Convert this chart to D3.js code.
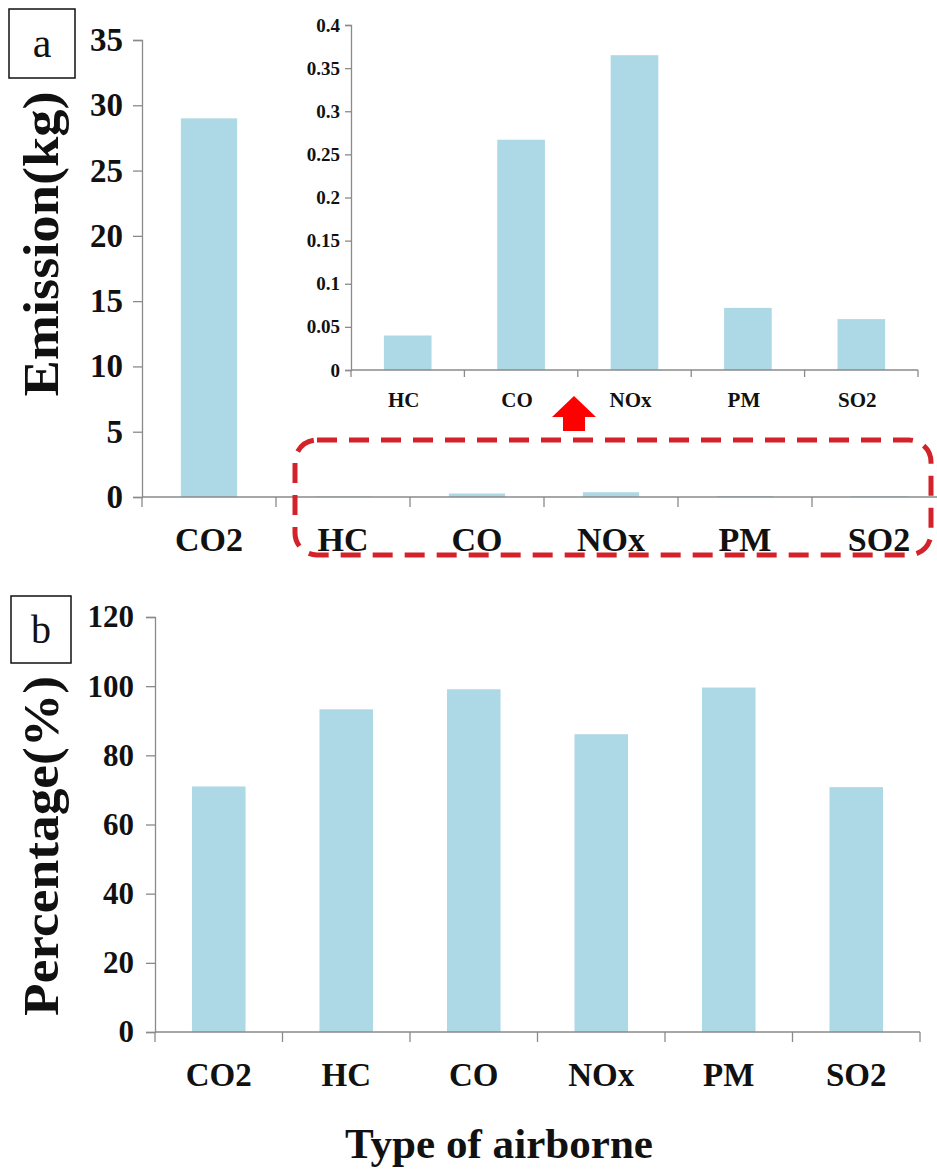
<!DOCTYPE html>
<html><head><meta charset="utf-8">
<script src="https://cdn.jsdelivr.net/npm/d3@7"></script>
<style>
html,body{margin:0;padding:0;background:#fff;}
svg{display:block;}
svg text{font-family:"Liberation Serif","Times New Roman",serif !important;}
</style></head>
<body>
<svg id="chart" width="937" height="1175"></svg>
<script>
// ---- data ----
const categories = ["CO2","HC","CO","NOx","PM","SO2"];
const emissionKg = [29.0, 0.040, 0.267, 0.365, 0.072, 0.059];
const insetCategories = ["HC","CO","NOx","PM","SO2"];
const insetEmissionKg = [0.040, 0.267, 0.365, 0.072, 0.059];
const percentValues = [71.0, 93.3, 99.1, 86.1, 99.6, 70.8];
const emissionTicks = [0,5,10,15,20,25,30,35];
const insetTicks = [0,0.05,0.1,0.15,0.2,0.25,0.3,0.35,0.4];
const percentTicks = [0,20,40,60,80,100,120];

const svg = d3.select("#chart");
const barColor = "#add8e6";
const axisColor = "#8a8a8a";
const barFrac = 0.42;
const serif = "'Liberation Serif','Times New Roman',serif";

function drawPanel(g, cats, vals, xr, yDomain, yr, ticks, opts){
  const x = d3.scaleBand().domain(cats).range(xr).padding(0);
  const y = d3.scaleLinear().domain(yDomain).range(yr);
  const bw = x.bandwidth();
  g.selectAll("rect.bar").data(cats).enter().append("rect")
    .attr("class","bar")
    .attr("x", d => x(d) + bw*(1-barFrac)/2)
    .attr("width", bw*barFrac)
    .attr("y", (d,i) => y(vals[i]))
    .attr("height", (d,i) => y(0) - y(vals[i]))
    .attr("fill", barColor);
  const yAxis = d3.axisLeft(y).tickValues(ticks).tickSize(opts.tickLen).tickPadding(opts.yPad)
    .tickFormat(d => d3.format("~g")(d));
  const ya = g.append("g").attr("transform",`translate(${xr[0]},0)`).call(yAxis)
    .attr("font-family", serif);
  ya.select(".domain").attr("stroke",axisColor).attr("stroke-width",1.3);
  ya.selectAll(".tick line").attr("stroke",axisColor).attr("stroke-width",1.3);
  ya.selectAll(".tick text").attr("font-size",opts.yFont).attr("font-weight","bold")
    .attr("fill","#111").attr("font-family", serif);
  g.append("line").attr("x1",xr[0]).attr("x2",xr[1]).attr("y1",y(0)).attr("y2",y(0))
    .attr("stroke",axisColor).attr("stroke-width",1.3);
  const bounds = cats.map(c => x(c)).concat([xr[1]]);
  g.selectAll("line.xt").data(bounds).enter().append("line")
    .attr("x1",d=>d).attr("x2",d=>d).attr("y1",y(0)).attr("y2",y(0)+opts.xTickLen)
    .attr("stroke",axisColor).attr("stroke-width",1.3);
  g.selectAll("text.xl").data(cats).enter().append("text")
    .attr("x", d => x(d) + bw/2 + (opts.xLabShift||0)).attr("y", y(0) + opts.xLabOff)
    .attr("text-anchor","middle").attr("font-size",opts.xFont).attr("font-weight","bold")
    .attr("font-family", serif).attr("fill","#111").text(d=>d);
  return {x,y};
}

// ---- Panel a ----
const ga = svg.append("g");
drawPanel(ga, categories, emissionKg, [142, 946], [0,35], [497, 40], emissionTicks,
  {tickLen:9, yPad:10, yFont:33, xTickLen:10, xLabOff:54, xFont:34});

// inset
const gi = svg.append("g");
drawPanel(gi, insetCategories, insetEmissionKg, [351, 918], [0,0.4], [370, 25], insetTicks,
  {tickLen:6, yPad:5, yFont:19, xTickLen:7, xLabOff:37, xFont:21, xLabShift:-4});

// axis title a
svg.append("text").attr("transform","translate(58,244) rotate(-90)")
  .attr("text-anchor","middle").attr("font-size",50).attr("font-weight","bold")
  .attr("font-family", serif)
  .attr("textLength",305).attr("lengthAdjust","spacingAndGlyphs")
  .attr("fill","#111").text("Emission(kg)");

// label box a
svg.append("rect").attr("x",9).attr("y",9).attr("width",66).attr("height",69)
  .attr("fill","none").attr("stroke","#111").attr("stroke-width",1.5);
svg.append("text").attr("x",42).attr("y",57).attr("text-anchor","middle")
  .attr("font-family", serif).attr("font-size",42).attr("fill","#111").text("a");

// red dashed rounded rect
svg.append("rect").attr("x",295).attr("y",440).attr("width",636).attr("height",115)
  .attr("rx",22).attr("ry",22).attr("fill","none")
  .attr("stroke","#d3222a").attr("stroke-width",5).attr("stroke-dasharray","20,12");

// red arrow
svg.append("path")
  .attr("d","M574,396 L596,417 L585,417 L585,431 L563,431 L563,417 L552,417 Z")
  .attr("fill","#ff0000");

// ---- Panel b ----
const gb = svg.append("g");
drawPanel(gb, categories, percentValues, [155, 920], [0,120], [1032, 617], percentTicks,
  {tickLen:9, yPad:12, yFont:31, xTickLen:10, xLabOff:54, xFont:33});

svg.append("text").attr("transform","translate(58,846) rotate(-90)")
  .attr("text-anchor","middle").attr("font-size",50).attr("font-weight","bold")
  .attr("font-family", serif)
  .attr("textLength",340).attr("lengthAdjust","spacingAndGlyphs")
  .attr("fill","#111").text("Percentage(%)");

svg.append("rect").attr("x",11).attr("y",596).attr("width",60).attr("height",67)
  .attr("fill","none").attr("stroke","#111").attr("stroke-width",1.5);
svg.append("text").attr("x",41).attr("y",643).attr("text-anchor","middle")
  .attr("font-family", serif).attr("font-size",40).attr("fill","#111").text("b");

svg.append("text").attr("x",499).attr("y",1158).attr("text-anchor","middle")
  .attr("font-size",43).attr("font-weight","bold").attr("fill","#111")
  .attr("font-family", serif)
  .attr("textLength",308).attr("lengthAdjust","spacingAndGlyphs")
  .text("Type of airborne");
</script>
</body></html>
